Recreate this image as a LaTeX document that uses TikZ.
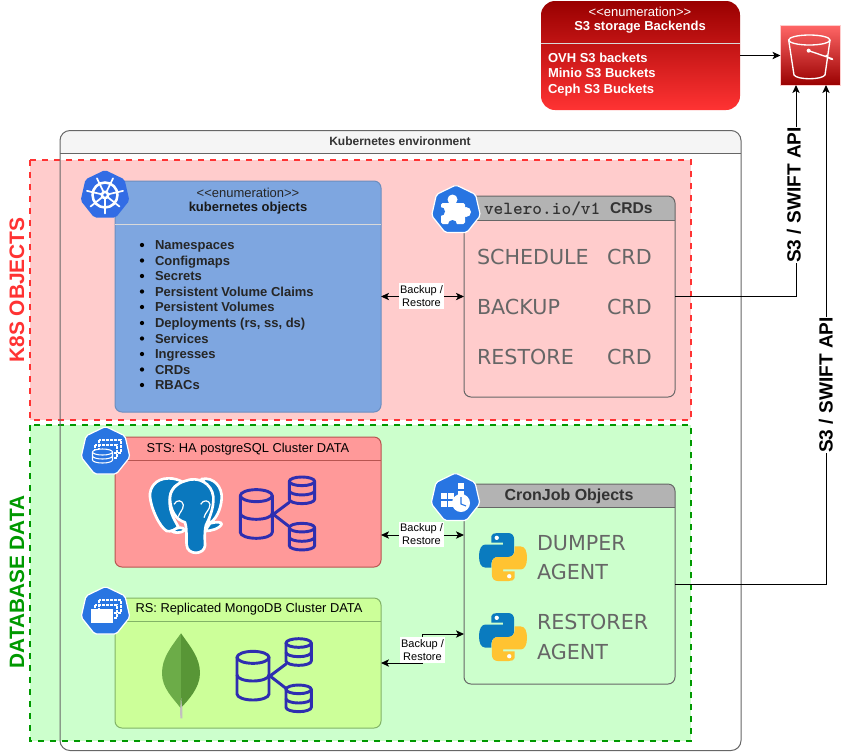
\documentclass[tikz,border=0pt]{standalone}
\usepackage{fontspec}
\setmainfont{Liberation Sans}
\newfontfamily\vera{DejaVu Sans}
\usetikzlibrary{arrows.meta,shapes.geometric,calc}
\definecolor{envline}{HTML}{666666}
\definecolor{envhead}{HTML}{F5F5F5}
\definecolor{pinkbg}{HTML}{FFCCCC}
\definecolor{greenbg}{HTML}{CCFFCC}
\definecolor{redline}{HTML}{FF3333}
\definecolor{greenline}{HTML}{009900}
\definecolor{bluebox}{HTML}{7EA6E0}
\definecolor{blueline}{HTML}{6C8EBF}
\definecolor{pgbox}{HTML}{FF9999}
\definecolor{pgline}{HTML}{B85450}
\definecolor{mgbox}{HTML}{CCFF99}
\definecolor{mgline}{HTML}{82B366}
\definecolor{headgray}{HTML}{B3B3B3}
\definecolor{kblue}{HTML}{326CE5}
\definecolor{iblue}{HTML}{2875E2}
\definecolor{dbblue}{HTML}{2E2EB0}
\definecolor{pgblue}{HTML}{0A78BE}
\definecolor{pyblue}{HTML}{0A7BBF}
\definecolor{pyyellow}{HTML}{FFC331}
\definecolor{txt}{HTML}{333333}
\definecolor{bigtxt}{HTML}{666666}
\definecolor{sthree}{HTML}{990000}
\definecolor{bkttop}{HTML}{FF6666}
\definecolor{leafa}{HTML}{6CAC48}
\definecolor{leafb}{HTML}{589636}
\definecolor{leafc}{HTML}{C2BFBF}
\newcommand{\pF}[1]{\fontsize{#1}{#1}\selectfont}
\tikzset{
  plain/.style={inner sep=0pt,outer sep=0pt},
  boxnode/.style={plain,rounded corners=5.25pt,line width=.75pt},
  tw/.style={plain,anchor=west,text=white,font=\bfseries\pF{9.75},text height=7pt,text depth=0pt},
  li/.style={plain,anchor=west,text=black!85,font=\bfseries\pF{9.75},text height=7pt,text depth=0pt},
  bul/.style={circle,fill=black,inner sep=0pt,minimum size=3.2pt},
  bigt/.style={plain,anchor=west,text=bigtxt,font=\vera\pF{15.5},text height=11.2pt,text depth=0pt},
  lnk/.style={line width=.75pt,black,{Stealth[length=6pt,width=5.5pt,inset=1.5pt]}-{Stealth[length=6pt,width=5.5pt,inset=1.5pt]}},
  up/.style={line width=.75pt,black,-{Stealth[length=6pt,width=5.5pt,inset=1.5pt]}},
  lab/.style={plain,fill=white,align=center,font=\pF{8.25},inner xsep=.5pt,inner ysep=1.5pt},
  api/.style={plain,fill=white,rotate=90,font=\bfseries\pF{14.3},inner ysep=1pt,inner xsep=.5pt},
  hepta/.style={regular polygon,regular polygon sides=7,minimum size=37.5pt,inner sep=0pt,fill=iblue,draw=white,line width=.9pt,rounded corners=1.5pt},
  db/.style={draw=dbblue,line width=2.2pt,line cap=round,line join=round},
  eleph/.style={fill=pgblue,draw=white,line width=2pt,line join=round},
}
\newcommand{\dbicon}[2]{%
 \begin{scope}[shift={(#1,#2)},scale=1/3]
  \draw[db] (51,22) ellipse [x radius=48,y radius=18];
  \draw[db] (3,22) -- (3,132) arc[start angle=180,end angle=0,x radius=48,y radius=18] -- (99,22);
  \draw[db] (3,75) arc[start angle=180,end angle=0,x radius=48,y radius=18];
  \draw[db] (188,-21) ellipse [x radius=38,y radius=13];
  \draw[db] (150,-21) -- (150,33) arc[start angle=180,end angle=0,x radius=38,y radius=13] -- (226,-21);
  \draw[db] (150,7) arc[start angle=180,end angle=0,x radius=38,y radius=13];
  \draw[db] (188,118) ellipse [x radius=38,y radius=13];
  \draw[db] (150,118) -- (150,172) arc[start angle=180,end angle=0,x radius=38,y radius=13] -- (226,118);
  \draw[db] (150,146) arc[start angle=180,end angle=0,x radius=38,y radius=13];
  \draw[db] (150,42) -- (102,78) -- (150,115);
 \end{scope}}
\newcommand{\pypart}{(26,20) -- (26,6) .. controls (26,2) and (32,0) .. (38,0) -- (61,0) .. controls (68,0) and (73,5) .. (73,12) -- (73,38) .. controls (73,45) and (68,50) .. (61,50) -- (39,50) .. controls (31,50) and (26,56) .. (26,63) -- (26,72) -- (13,72) .. controls (4,72) and (0,62) .. (0,48) .. controls (0,34) and (5,24) .. (13,24) -- (50,24) -- (50,20) -- cycle}
\newcommand{\pylogo}[2]{%
 \begin{scope}[shift={(#1,#2)},scale=.48]
  \fill[pyblue] \pypart;
  \fill[white] (37,10) circle[radius=4.5];
  \begin{scope}[rotate around={180:(50,50)}]
   \fill[pyyellow] \pypart;
   \fill[white] (37,10) circle[radius=4.5];
  \end{scope}
 \end{scope}}
\begin{document}
\begin{tikzpicture}[x=0.75pt,y=-0.75pt]
\useasboundingbox (0,0) rectangle (841,751);
\fill[white] (0,0) rectangle (841,751);

% environment body and header
\fill[white,rounded corners=7.5pt] (60,130) rectangle (741,751);
\fill[envhead] (60,153) [rounded corners=7.5pt] -- (60,130) -- (741,130) [sharp corners] -- (741,153) -- cycle;

% zones
\draw[fill=pinkbg,draw=redline,line width=1.5pt,dash pattern=on 4.5pt off 4.5pt] (30,160) rectangle (691,420);
\draw[fill=greenbg,draw=greenline,line width=1.5pt,dash pattern=on 4.5pt off 4.5pt] (30,425) rectangle (691,741);

% environment outline
\node[plain,draw=envline,line width=.75pt,rounded corners=7.5pt,minimum width=681*.75pt,minimum height=620*.75pt] (env) at (400.5,440.5) {};
\draw[envline,line width=.75pt] (60,153) -- (741,153);
\node[plain,text=txt,font=\bfseries\pF{9}] (envtitle) at (400,141.5) {Kubernetes environment};

% zone labels
\node[plain,rotate=90,text=redline,font=\bfseries\pF{15.7}] (k8slabel) at (17,290) {K8S OBJECTS};
\node[plain,rotate=90,text=greenline,font=\bfseries\pF{15.6}] (dblabel) at (17,582) {DATABASE DATA};

% S3 backends
\node[plain,rounded corners=10.5pt,top color=sthree,bottom color=redline,minimum width=199*.75pt,minimum height=109*.75pt] (s3) at (640.5,55.5) {};
\draw[white!85!black,line width=.75pt] (541,43) -- (740,43);
\node[plain,text=white,font=\pF{9.75}] (s3a) at (640,11.5) {<{}<enumeration>{}>};
\node[plain,text=white,font=\bfseries\pF{9.75}] (s3b) at (640,27) {S3 storage Backends};
\node[tw] (s31) at (548,57.5) {OVH S3 backets};
\node[tw] (s32) at (548,73) {Minio S3 Buckets};
\node[tw] (s33) at (548,88.5) {Ceph S3 Buckets};

% bucket icon
\node[plain,top color=bkttop,bottom color=sthree,draw=pinkbg,line width=.75pt,minimum width=60*.75pt,minimum height=60*.75pt] (bucket) at (810.5,55.5) {};
\begin{scope}[shift={(520,0)},scale=1/3,white,line width=1pt]
 \draw (868,120) ellipse [x radius=62,y radius=15];
 \draw (806,120) -- (822,225) .. controls (832,240) and (905,240) .. (915,225) -- (930,120);
 \draw (866,152) -- (936,176) .. controls (942,180) and (925,178) .. (918,165);
 \fill (866,152) circle[radius=6];
\end{scope}
\draw[up] (s3) -- (bucket);

% kubernetes objects box
\node[boxnode,fill=bluebox,draw=blueline,minimum width=266*.75pt,minimum height=231*.75pt] (kobj) at (248,296.5) {};
\draw[white!85!black,line width=.75pt] (115,224) -- (381,224);
\node[plain,text=black!85,font=\pF{9.75}] (ka) at (248,192.5) {<{}<enumeration>{}>};
\node[plain,text=black!90,font=\bfseries\pF{9.75}] (kb) at (248,208.5) {kubernetes objects};
\foreach \n/\y/\t in {1/245/Namespaces,2/260.5/Configmaps,3/276/Secrets,4/291.5/Persistent Volume Claims,5/307/Persistent Volumes,6/323/{Deployments (rs, ss, ds)},7/338.5/Services,8/354/Ingresses,9/369.5/CRDs,10/385/RBACs}{
  \node[bul] (kbul\n) at (142,\y) {};
  \node[li] (kitem\n) at (155,\y) {\t};
}
\node[hepta,fill=kblue,draw=none] (kicon) at (105,195) {};
\begin{scope}[shift={(kicon.center)},white]
 \draw[line width=1.9pt] (0,0) circle[radius=12.5];
 \foreach \a in {90,141.43,192.86,244.29,295.71,347.14,398.57}{
  \draw[line width=1.3pt,line cap=round] (\a:3) -- (\a:18.5);
 }
 \fill (0,0) circle[radius=4.5];
 \fill[kblue] (0,0) circle[radius=1.8];
\end{scope}

% velero CRDs
\fill[headgray] (464,220) [rounded corners=6pt] -- (464,196) -- (675,196) [sharp corners] -- (675,220) -- cycle;
\node[boxnode,draw=envline,minimum width=211*.75pt,minimum height=201*.75pt] (crd) at (569.5,296.5) {};
\draw[envline,line width=.75pt] (464,220) -- (675,220);
\node[plain,anchor=west,text=txt,font=\ttfamily\bfseries\pF{13.85}] (crdm) at (484,208.5) {velero.io/v1};
\node[plain,anchor=west,text=txt,font=\bfseries\pF{11.7}] (crdt) at (610,208) {CRDs};
\node[bigt] (cs1) at (477,257) {SCHEDULE};
\node[bigt] (cs2) at (607,257) {CRD};
\node[bigt] (cb1) at (477,307) {BACKUP};
\node[bigt] (cb2) at (607,307) {CRD};
\node[bigt] (cr1) at (477,357) {RESTORE};
\node[bigt] (cr2) at (607,357) {CRD};
\node[hepta] (picon) at (456,210) {};
\begin{scope}[white]
 \fill[rounded corners=1.2pt] (441,203) rectangle (465,224);
 \fill (452.5,199.5) circle[radius=5];
 \fill (466,212) circle[radius=5];
 \fill[iblue] (440.5,211.5) circle[radius=4.5];
 \fill[iblue] (452.5,224.5) circle[radius=4.5];
\end{scope}

% postgres box
\node[boxnode,fill=pgbox,draw=pgline,minimum width=266*.75pt,minimum height=130*.75pt] (pg) at (248,502) {};
\draw[pgline,line width=.75pt] (115,460) -- (381,460);
\node[plain,text=black,font=\pF{9.65}] (pgt) at (248,449) {STS: HA postgreSQL Cluster DATA};
\begin{scope}[shift={(70,425)},scale=1/3]
 \draw[eleph] (420,295) .. controls (440,290) and (456,290) .. (455,298) .. controls (450,310) and (425,318) .. (405,318) -- cycle;
 \draw[eleph] (305,318) .. controls (320,305) and (340,305) .. (345,315) .. controls (335,325) and (312,325) .. (305,318) -- cycle;
 \draw[eleph] (296,160) .. controls (255,160) and (238,190) .. (240,215) .. controls (243,250) and (268,305) .. (290,318) .. controls (302,322) and (318,312) .. (325,305) .. controls (310,280) and (295,255) .. (300,215) .. controls (303,190) and (320,175) .. (340,172) .. controls (325,163) and (310,160) .. (296,160) -- cycle;
 \draw[eleph] (395,162) .. controls (430,155) and (458,185) .. (455,222) .. controls (452,255) and (438,285) .. (415,297) .. controls (420,260) and (430,200) .. (395,162) -- cycle;
 \draw[eleph] (345,168) .. controls (385,152) and (425,175) .. (430,215) .. controls (432,250) and (418,280) .. (408,300) .. controls (402,325) and (405,345) .. (405,362) .. controls (403,390) and (352,392) .. (350,360) .. controls (348,335) and (352,315) .. (345,292) .. controls (318,285) and (300,255) .. (300,220) .. controls (300,195) and (320,175) .. (345,168) -- cycle;
 \draw[white,line width=.9pt] (312,238) .. controls (320,222) and (338,225) .. (340,240) .. controls (340,255) and (328,262) .. (325,275);
 \draw[white,line width=.9pt] (392,238) .. controls (400,222) and (418,226) .. (420,238) .. controls (420,255) and (405,262) .. (402,278);
\end{scope}
\dbicon{239.3}{488.3}
\node[hepta] (sicon) at (105.5,451.5) {};
\begin{scope}[white,line width=.8pt]
 \draw[dash pattern=on 2pt off 1pt] (99,440) rectangle (121,453);
 \draw[dash pattern=on 2pt off 1pt] (95,445) rectangle (117,458);
 \draw[fill=iblue] (92.5,452) -- (92.5,460) arc[start angle=180,end angle=0,x radius=10,y radius=3] -- (112.5,452);
 \draw[fill=iblue] (102.5,452) ellipse [x radius=10,y radius=3];
 \draw (92.5,456) arc[start angle=180,end angle=0,x radius=10,y radius=3];
\end{scope}

% mongo box
\node[boxnode,fill=mgbox,draw=mgline,minimum width=266*.75pt,minimum height=130*.75pt] (mg) at (248,663) {};
\draw[mgline,line width=.75pt] (115,621) -- (381,621);
\node[plain,text=black,font=\pF{9.65}] (mgt) at (249,609.5) {RS: Replicated MongoDB Cluster DATA};
\begin{scope}[shift={(70,585)},scale=1/3]
 \fill[leafc] (329,330) -- (337,330) -- (337,400) -- (331,400) -- cycle;
 \fill[leafa] (333,145) .. controls (300,190) and (276,220) .. (276,265) .. controls (276,310) and (310,340) .. (331,368) -- (333,330) -- cycle;
 \fill[leafb] (333,145) .. controls (365,190) and (390,220) .. (390,265) .. controls (390,310) and (350,350) .. (336,365) -- (333,330) -- cycle;
\end{scope}
\dbicon{236}{650}
\node[hepta] (ricon) at (105.5,611.5) {};
\begin{scope}[white,line width=.8pt]
 \draw[dash pattern=on 2pt off 1pt] (99,600) rectangle (121,613);
 \draw[dash pattern=on 2pt off 1pt] (95,605) rectangle (117,618);
 \fill[white] (91,609) rectangle (113,623);
\end{scope}

% cronjob box
\fill[headgray] (464,507) [rounded corners=6pt] -- (464,484) -- (675,484) [sharp corners] -- (675,507) -- cycle;
\node[boxnode,draw=envline,minimum width=211*.75pt,minimum height=200*.75pt] (cron) at (569.5,584) {};
\draw[envline,line width=.75pt] (464,507) -- (675,507);
\node[plain,text=txt,font=\bfseries\pF{12}] (cront) at (569,496) {CronJob Objects};
\pylogo{479}{533}
\pylogo{479}{613}
\node[bigt] (cd1) at (537,543) {DUMPER};
\node[bigt] (cd2) at (537,572) {AGENT};
\node[bigt] (cd3) at (537,622) {RESTORER};
\node[bigt] (cd4) at (537,652) {AGENT};
\node[hepta] (cicon) at (455.5,498) {};
\begin{scope}[white]
 \foreach \x/\y in {458/483,458/491,448/493,441/493,441/501,448/501}{
  \fill (\x,\y) rectangle ++(6,5.5);
 }
 \fill (461,503) circle[radius=9];
 \draw[iblue,line width=.8pt] (461,497) -- (461,504) -- (466,506);
\end{scope}

% connectors
\coordinate (pgE) at (381,535);
\coordinate (crW) at (464,535);
\coordinate (crW2) at (464,634);
\coordinate (b1) at (796,85);
\coordinate (b2) at (826,85);
\coordinate (jog) at (422,634);
\draw[lnk] (kobj.east) -- (crd.west);
\draw[lnk] (pgE) -- (crW);
\draw[lnk] (mg.east) -| (jog) -- (crW2);
\node[lab] (l1) at (421.5,296) {Backup /\\[1.5pt]Restore};
\node[lab] (l2) at (421.5,534.5) {Backup /\\[1.5pt]Restore};
\node[lab] (l3) at (422.5,650) {Backup /\\[1.5pt]Restore};
\draw[up] (crd.east) -| (b1);
\draw[up] (cron.east) -| (b2);
\node[api] (a1) at (794,195) {S3 / SWIFT API};
\node[api] (a2) at (826,385) {S3 / SWIFT API};
\end{tikzpicture}
\end{document}
